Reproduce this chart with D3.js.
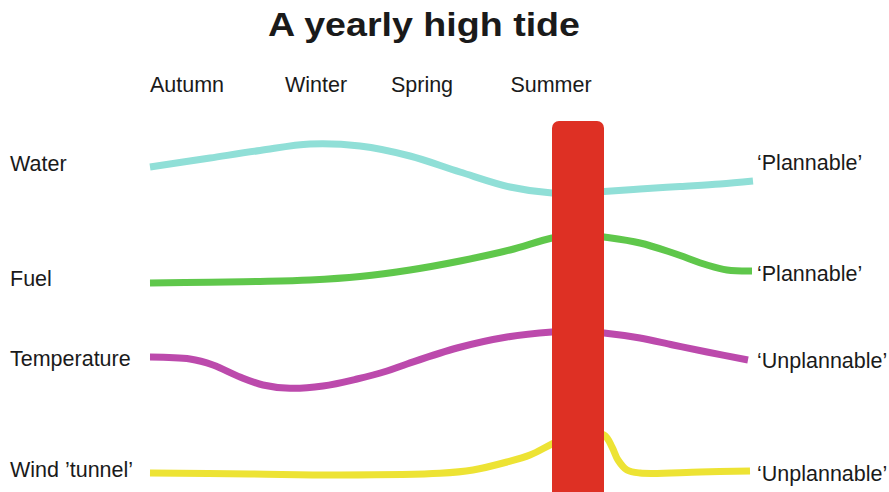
<!DOCTYPE html>
<html>
<head>
<meta charset="utf-8">
<script src="https://cdn.jsdelivr.net/npm/d3@7"></script>
<style>
  html, body { margin: 0; padding: 0; background: #fff; }
  svg { display: block; }
  text { font-family: "Liberation Sans", Arial, Helvetica, sans-serif; fill: #1a1a1a; }
</style>
</head>
<body>
<script>
// ---------- data ----------
const title = "A yearly high tide";
const seasons = ["Autumn", "Winter", "Spring", "Summer"];
const seasonT = [3.7, 16.6, 27.2, 40.1];
const seriesNames = ["Water", "Fuel", "Temperature", "Wind \u2019tunnel\u2019"];
const seriesLabelV = [32.1, 20.6, 12.6, 1.5];
const outcomes = ["\u2018Plannable\u2019", "\u2018Plannable\u2019", "\u2018Unplannable\u2019", "\u2018Unplannable\u2019"];
const outcomeV = [32.2, 21.1, 12.4, 1.1];
const colors = ["#90dfd7", "#5fc74b", "#bc4aac", "#ede334"];

const waterT = [0, 6, 11, 16, 21, 26, 31, 36, 40.2, 42.8, 45.4, 49, 53, 57, 60.3];
const waterV = [32.5, 33.4, 34.15, 34.8, 34.6, 33.6, 32.0, 30.5, 29.9, 29.9, 30.05, 30.3, 30.55, 30.8, 31.1];
const fuelT = [0, 6, 11, 16, 21, 26, 31, 36, 40.2, 42.8, 45.4, 49, 52.3, 55.7, 57.7, 60.2];
const fuelV = [20.9, 20.97, 21.05, 21.2, 21.55, 22.2, 23.1, 24.2, 25.4, 25.8, 25.5, 24.9, 23.9, 22.7, 22.2, 22.1];
const tempT = [0, 4, 6.3, 9, 11.3, 14, 17.3, 20.7, 23.7, 25.7, 30.7, 35.7, 40.2, 42.8, 45.4, 49, 52.3, 55.7, 59.8];
const tempV = [13.5, 13.3, 12.7, 11.5, 10.7, 10.37, 10.6, 11.3, 12.1, 12.8, 14.4, 15.5, 16.0, 16.1, 15.9, 15.4, 14.7, 14.0, 13.2];
const windT = [0, 10, 19, 29, 32.3, 35.7, 38, 40.2, 42.8, 45.4, 46.2, 46.8, 47.7, 49, 55, 60];
const windV = [1.9, 1.8, 1.7, 1.87, 2.2, 3.0, 3.7, 4.8, 6.0, 5.7, 4.5, 3.2, 2.2, 1.9, 2.0, 2.1];

// the summer "high tide" bar
const tideStart = 40.2, tideEnd = 45.4, tideTop = 37.1;

// ---------- layout ----------
const W = 889, H = 492;
const svg = d3.select("body").append("svg").attr("width", W).attr("height", H);

const x = d3.scaleLinear().domain([0, 60]).range([150, 750]);
const y = d3.scaleLinear().domain([0, 35]).range([492, 142]);

svg.append("text")
  .attr("x", 268).attr("y", 36)
  .attr("font-size", 33).attr("font-weight", "bold")
  .attr("textLength", 312).attr("lengthAdjust", "spacingAndGlyphs")
  .text(title);

svg.selectAll(".season").data(seasons).join("text")
  .attr("class", "season")
  .attr("x", (d, i) => x(seasonT[i])).attr("y", 92)
  .attr("text-anchor", "middle")
  .attr("font-size", 21.5)
  .text(d => d);

const series = [
  { t: waterT, v: waterV },
  { t: fuelT, v: fuelV },
  { t: tempT, v: tempV },
  { t: windT, v: windV }
];

const line = d3.line()
  .x(d => x(d[0])).y(d => y(d[1]))
  .curve(d3.curveCatmullRom.alpha(0.5));

svg.selectAll(".series").data(series).join("path")
  .attr("class", "series")
  .attr("d", s => line(s.t.map((t, i) => [t, s.v[i]])))
  .attr("fill", "none")
  .attr("stroke", (d, i) => colors[i])
  .attr("stroke-width", 7)
  .attr("stroke-linecap", "butt");

svg.append("rect")
  .attr("x", x(tideStart)).attr("y", y(tideTop))
  .attr("width", x(tideEnd) - x(tideStart))
  .attr("height", y(-2) - y(tideTop))
  .attr("rx", 7)
  .attr("fill", "#de3024");

svg.selectAll(".name").data(seriesNames).join("text")
  .attr("class", "name")
  .attr("x", 10).attr("y", (d, i) => y(seriesLabelV[i]))
  .attr("font-size", 21.5)
  .text(d => d);

svg.selectAll(".outcome").data(outcomes).join("text")
  .attr("class", "outcome")
  .attr("x", 757).attr("y", (d, i) => y(outcomeV[i]))
  .attr("font-size", 21.5)
  .text(d => d);
</script>
</body>
</html>
